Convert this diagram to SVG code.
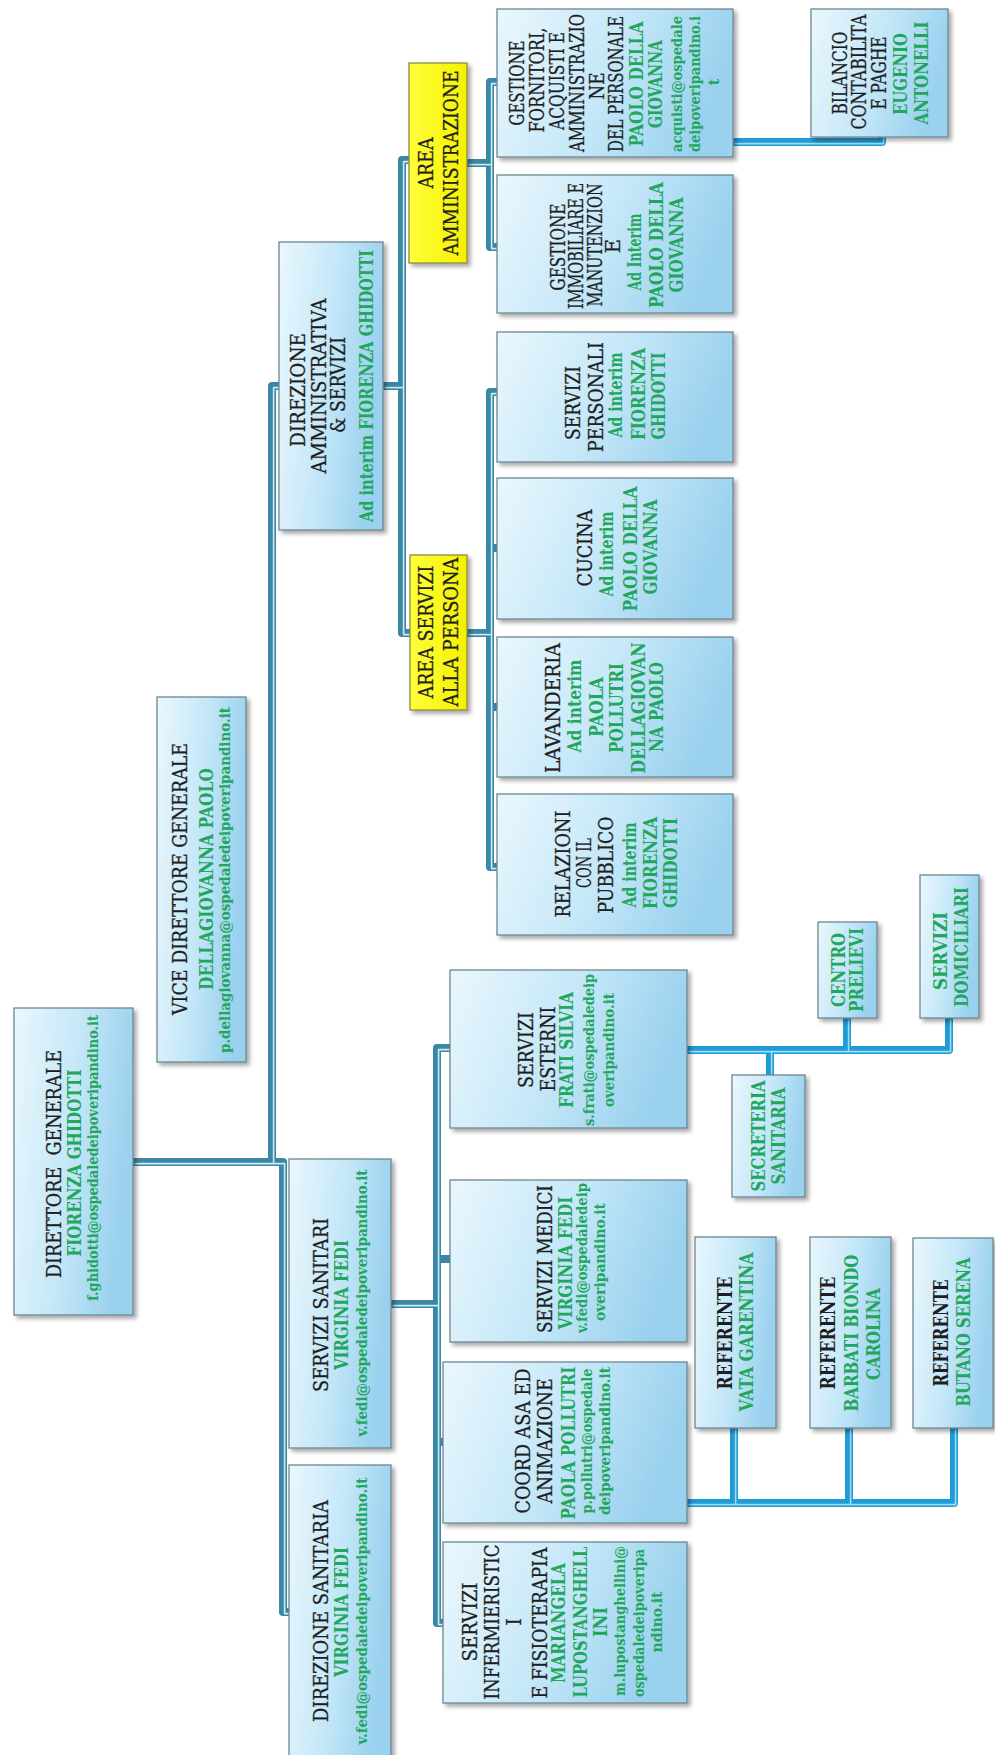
<svg xmlns="http://www.w3.org/2000/svg" width="995" height="1755" viewBox="0 0 995 1755">
<defs>
<linearGradient id="bx" x1="0" y1="0" x2="1" y2="0.25">
<stop offset="0" stop-color="#eaf7fd"/>
<stop offset="0.55" stop-color="#c4e7f8"/>
<stop offset="1" stop-color="#9ad1ee"/>
</linearGradient>
<linearGradient id="yl" x1="0" y1="0" x2="1" y2="0">
<stop offset="0" stop-color="#ffff3a"/>
<stop offset="1" stop-color="#f4f000"/>
</linearGradient>
<filter id="sh" x="-15%" y="-10%" width="135%" height="125%">
<feDropShadow dx="3" dy="3" stdDeviation="2.2" flood-color="#000" flood-opacity="0.35"/>
</filter>
</defs>
<style>
.box{fill:url(#bx);stroke:#6e8791;stroke-width:1.3;filter:url(#sh)}
.ybox{fill:url(#yl);stroke:#8c8a40;stroke-width:1.3;filter:url(#sh)}
.c1{fill:none;stroke:#3a88a5;stroke-width:8;stroke-linejoin:round}
.c1h{fill:none;stroke:#cfeaf3;stroke-width:1.6;stroke-linejoin:round}
.c2{fill:none;stroke:#1f9bd5;stroke-width:8;stroke-linejoin:round}
.c2h{fill:none;stroke:#9edcf4;stroke-width:1.6;stroke-linejoin:round}
.t{font-family:"DejaVu Serif","Liberation Serif",serif;font-size:19.5px;fill:#1e1e1e;stroke:#1e1e1e;stroke-width:0.3;text-anchor:middle}
.tb{font-family:"DejaVu Serif","Liberation Serif",serif;font-size:19.5px;font-weight:bold;fill:#1e1e1e;text-anchor:middle}
.g{font-family:"DejaVu Serif","Liberation Serif",serif;font-size:18px;font-weight:bold;fill:#21a65c;text-anchor:middle}
.e{font-family:"DejaVu Serif","Liberation Serif",serif;font-size:14px;font-weight:bold;fill:#21a65c;text-anchor:middle}
</style>
<rect width="995" height="1755" fill="#ffffff"/>

<g id="connectors">
<g id="dark">
<path class="c1" d="M133,1162 H283 V1612 H290"/>
<path class="c1" d="M272,1162 V386 H280"/>
<path class="c1" d="M383,386 H402"/>
<path class="c1" d="M410,160 H402 V633 H411"/>
<path class="c1" d="M467,163 H490"/>
<path class="c1" d="M498,82 H490 V247 H498"/>
<path class="c1" d="M467,633 H490"/>
<path class="c1" d="M498,392 H490 V867 H498"/>
<path class="c1" d="M490,548 H498 M490,707 H498"/>
<path class="c1" d="M391,1304 H437"/>
<path class="c1" d="M451,1048 H437 V1623 H444"/>
<path class="c1" d="M437,1259 H451 M437,1442 H444"/>
<g transform="translate(1.6,1.6)">
<path class="c1h" d="M133,1162 H283 V1612 H288"/>
<path class="c1h" d="M272,1162 V386 H278"/>
<path class="c1h" d="M383,386 H402"/>
<path class="c1h" d="M408,160 H402 V633 H409"/>
<path class="c1h" d="M467,163 H490"/>
<path class="c1h" d="M496,82 H490 V247 H496"/>
<path class="c1h" d="M467,633 H490"/>
<path class="c1h" d="M496,392 H490 V867 H496"/>
<path class="c1h" d="M391,1304 H437"/>
<path class="c1h" d="M449,1048 H437 V1623 H442"/>
</g>
</g>
<g id="bright">
<path class="c2" d="M687,1050 H949 V1018"/>
<path class="c2" d="M847,1050 V1018 M770,1050 V1075"/>
<path class="c2" d="M687,1503 H954 V1428"/>
<path class="c2" d="M734,1503 V1428 M849,1503 V1428"/>
<path class="c2" d="M733,142 H882 V132"/>
<g transform="translate(1.6,1.6)">
<path class="c2h" d="M687,1050 H949 V1018"/>
<path class="c2h" d="M847,1050 V1018 M770,1050 V1073"/>
<path class="c2h" d="M687,1503 H954 V1428"/>
<path class="c2h" d="M734,1503 V1428 M849,1503 V1428"/>
<path class="c2h" d="M733,142 H882 V132"/>
</g>
</g>
</g>

<g id="direttore-generale">
<rect class="box" x="14" y="1008" width="119" height="307"/>
<text class="t" xml:space="preserve" transform="translate(61,1164) rotate(-90)" textLength="228" lengthAdjust="spacingAndGlyphs">DIRETTORE  GENERALE</text>
<text class="g" transform="translate(81,1163) rotate(-90)" textLength="187" lengthAdjust="spacingAndGlyphs">FIORENZA GHIDOTTI</text>
<text class="e" transform="translate(98,1158) rotate(-90)" textLength="286" lengthAdjust="spacingAndGlyphs">f.ghidotti@ospedaledeipoveripandino.it</text>
</g>

<g id="vice-direttore">
<rect class="box" x="157" y="697" width="89" height="365"/>
<text class="t" transform="translate(187,879) rotate(-90)" textLength="272" lengthAdjust="spacingAndGlyphs">VICE DIRETTORE GENERALE</text>
<text class="g" transform="translate(213,879) rotate(-90)" textLength="222" lengthAdjust="spacingAndGlyphs">DELLAGIOVANNA PAOLO</text>
<text class="e" transform="translate(230,880) rotate(-90)" textLength="346" lengthAdjust="spacingAndGlyphs">p.dellagiovanna@ospedaledeipoveripandino.it</text>
</g>

<g id="direzione-amministrativa">
<rect class="box" x="279" y="242" width="104" height="288"/>
<text class="t" transform="translate(305,390) rotate(-90)" textLength="114" lengthAdjust="spacingAndGlyphs">DIREZIONE</text>
<text class="t" transform="translate(326,386) rotate(-90)" textLength="175" lengthAdjust="spacingAndGlyphs">AMMINISTRATIVA</text>
<text class="t" transform="translate(345,385) rotate(-90)" textLength="96" lengthAdjust="spacingAndGlyphs">&amp; SERVIZI</text>
<text class="g" transform="translate(373,386) rotate(-90)" textLength="272" lengthAdjust="spacingAndGlyphs">Ad interim FIORENZA GHIDOTTI</text>
</g>

<g id="servizi-sanitari">
<rect class="box" x="289" y="1159" width="102" height="289"/>
<text class="t" transform="translate(328,1305) rotate(-90)" textLength="174" lengthAdjust="spacingAndGlyphs">SERVIZI SANITARI</text>
<text class="g" transform="translate(348,1305) rotate(-90)" textLength="130" lengthAdjust="spacingAndGlyphs">VIRGINIA FEDI</text>
<text class="e" transform="translate(367,1303) rotate(-90)" textLength="267" lengthAdjust="spacingAndGlyphs">v.fedi@ospedaledeipoveripandino.it</text>
</g>

<g id="direzione-sanitaria">
<rect class="box" x="289" y="1465" width="102" height="293"/>
<text class="t" transform="translate(328,1611) rotate(-90)" textLength="222" lengthAdjust="spacingAndGlyphs">DIREZIONE SANITARIA</text>
<text class="g" transform="translate(348,1612) rotate(-90)" textLength="130" lengthAdjust="spacingAndGlyphs">VIRGINIA FEDI</text>
<text class="e" transform="translate(367,1611) rotate(-90)" textLength="267" lengthAdjust="spacingAndGlyphs">v.fedi@ospedaledeipoveripandino.it</text>
</g>

<g id="area-amministrazione">
<rect class="ybox" x="409" y="63" width="58" height="200"/>
<text class="t" transform="translate(433,163) rotate(-90)" textLength="51" lengthAdjust="spacingAndGlyphs">AREA</text>
<text class="t" transform="translate(458,163) rotate(-90)" textLength="185" lengthAdjust="spacingAndGlyphs">AMMINISTRAZIONE</text>
</g>

<g id="area-servizi-persona">
<rect class="ybox" x="410" y="555" width="57" height="155"/>
<text class="t" transform="translate(433,632) rotate(-90)" textLength="133" lengthAdjust="spacingAndGlyphs">AREA SERVIZI</text>
<text class="t" transform="translate(458,632) rotate(-90)" textLength="149" lengthAdjust="spacingAndGlyphs">ALLA PERSONA</text>
</g>

<g id="gestione-fornitori">
<rect class="box" x="497" y="9" width="236" height="148"/>
<text class="t" transform="translate(524,83) rotate(-90)" textLength="85" lengthAdjust="spacingAndGlyphs">GESTIONE</text>
<text class="t" transform="translate(544,80) rotate(-90)" textLength="105" lengthAdjust="spacingAndGlyphs">FORNITORI,</text>
<text class="t" transform="translate(564,81) rotate(-90)" textLength="98" lengthAdjust="spacingAndGlyphs">ACQUISTI E</text>
<text class="t" transform="translate(584,83) rotate(-90)" textLength="138" lengthAdjust="spacingAndGlyphs">AMMINISTRAZIO</text>
<text class="t" transform="translate(604,86) rotate(-90)" textLength="27" lengthAdjust="spacingAndGlyphs">NE</text>
<text class="t" transform="translate(623,84) rotate(-90)" textLength="136" lengthAdjust="spacingAndGlyphs">DEL PERSONALE</text>
<text class="g" transform="translate(643,84) rotate(-90)" textLength="125" lengthAdjust="spacingAndGlyphs">PAOLO DELLA</text>
<text class="g" transform="translate(662,84) rotate(-90)" textLength="88" lengthAdjust="spacingAndGlyphs">GIOVANNA</text>
<text class="e" transform="translate(682,84) rotate(-90)" textLength="136" lengthAdjust="spacingAndGlyphs">acquisti@ospedale</text>
<text class="e" transform="translate(700,84) rotate(-90)" textLength="136" lengthAdjust="spacingAndGlyphs">deipoveripandino.i</text>
<text class="e" transform="translate(719,82) rotate(-90)">t</text>
</g>

<g id="gestione-immobiliare">
<rect class="box" x="497" y="175" width="236" height="138"/>
<text class="t" transform="translate(565,247) rotate(-90)" textLength="87" lengthAdjust="spacingAndGlyphs">GESTIONE</text>
<text class="t" transform="translate(583,246) rotate(-90)" textLength="126" lengthAdjust="spacingAndGlyphs">IMMOBILIARE E</text>
<text class="t" transform="translate(602,245) rotate(-90)" textLength="123" lengthAdjust="spacingAndGlyphs">MANUTENZION</text>
<text class="t" transform="translate(620,246) rotate(-90)">E</text>
<text class="g" transform="translate(641,252) rotate(-90)" textLength="77" lengthAdjust="spacingAndGlyphs">Ad Interim</text>
<text class="g" transform="translate(663,245) rotate(-90)" textLength="126" lengthAdjust="spacingAndGlyphs">PAOLO DELLA</text>
<text class="g" transform="translate(683,245) rotate(-90)" textLength="95" lengthAdjust="spacingAndGlyphs">GIOVANNA</text>
</g>

<g id="servizi-personali">
<rect class="box" x="497" y="332" width="236" height="130"/>
<text class="t" transform="translate(580,403) rotate(-90)" textLength="74" lengthAdjust="spacingAndGlyphs">SERVIZI</text>
<text class="t" transform="translate(603,397) rotate(-90)" textLength="110" lengthAdjust="spacingAndGlyphs">PERSONALI</text>
<text class="g" transform="translate(622,395) rotate(-90)" textLength="85" lengthAdjust="spacingAndGlyphs">Ad interim</text>
<text class="g" transform="translate(645,394) rotate(-90)" textLength="92" lengthAdjust="spacingAndGlyphs">FIORENZA</text>
<text class="g" transform="translate(665,396) rotate(-90)" textLength="87" lengthAdjust="spacingAndGlyphs">GHIDOTTI</text>
</g>

<g id="cucina">
<rect class="box" x="497" y="478" width="236" height="141"/>
<text class="t" transform="translate(592,548) rotate(-90)" textLength="77" lengthAdjust="spacingAndGlyphs">CUCINA</text>
<text class="g" transform="translate(613,554) rotate(-90)" textLength="85" lengthAdjust="spacingAndGlyphs">Ad interim</text>
<text class="g" transform="translate(637,549) rotate(-90)" textLength="125" lengthAdjust="spacingAndGlyphs">PAOLO DELLA</text>
<text class="g" transform="translate(657,547) rotate(-90)" textLength="95" lengthAdjust="spacingAndGlyphs">GIOVANNA</text>
</g>

<g id="lavanderia">
<rect class="box" x="497" y="637" width="236" height="140"/>
<text class="t" transform="translate(560,708) rotate(-90)" textLength="130" lengthAdjust="spacingAndGlyphs">LAVANDERIA</text>
<text class="g" transform="translate(581,706) rotate(-90)" textLength="93" lengthAdjust="spacingAndGlyphs">Ad interim</text>
<text class="g" transform="translate(603,707) rotate(-90)" textLength="60" lengthAdjust="spacingAndGlyphs">PAOLA</text>
<text class="g" transform="translate(623,708) rotate(-90)" textLength="90" lengthAdjust="spacingAndGlyphs">POLLUTRI</text>
<text class="g" transform="translate(645,708) rotate(-90)" textLength="131" lengthAdjust="spacingAndGlyphs">DELLAGIOVAN</text>
<text class="g" transform="translate(663,707) rotate(-90)" textLength="90" lengthAdjust="spacingAndGlyphs">NA PAOLO</text>
</g>

<g id="relazioni-pubblico">
<rect class="box" x="497" y="794" width="236" height="141"/>
<text class="t" transform="translate(570,864) rotate(-90)" textLength="107" lengthAdjust="spacingAndGlyphs">RELAZIONI</text>
<text class="t" transform="translate(591,863) rotate(-90)" textLength="50" lengthAdjust="spacingAndGlyphs">CON IL</text>
<text class="t" transform="translate(613,865) rotate(-90)" textLength="97" lengthAdjust="spacingAndGlyphs">PUBBLICO</text>
<text class="g" transform="translate(636,865) rotate(-90)" textLength="85" lengthAdjust="spacingAndGlyphs">Ad interim</text>
<text class="g" transform="translate(657,863) rotate(-90)" textLength="92" lengthAdjust="spacingAndGlyphs">FIORENZA</text>
<text class="g" transform="translate(677,863) rotate(-90)" textLength="90" lengthAdjust="spacingAndGlyphs">GHIDOTTI</text>
</g>

<g id="bilancio">
<rect class="box" x="811" y="9" width="137" height="128"/>
<text class="t" transform="translate(847,73) rotate(-90)" textLength="83" lengthAdjust="spacingAndGlyphs">BILANCIO</text>
<text class="t" transform="translate(866,72) rotate(-90)" textLength="115" lengthAdjust="spacingAndGlyphs">CONTABILITA</text>
<text class="t" transform="translate(886,73) rotate(-90)" textLength="73" lengthAdjust="spacingAndGlyphs">E PAGHE</text>
<text class="g" transform="translate(907,74) rotate(-90)" textLength="82" lengthAdjust="spacingAndGlyphs">EUGENIO</text>
<text class="g" transform="translate(928,73) rotate(-90)" textLength="103" lengthAdjust="spacingAndGlyphs">ANTONELLI</text>
</g>

<g id="servizi-esterni">
<rect class="box" x="450" y="970" width="237" height="158"/>
<text class="t" transform="translate(533,1050) rotate(-90)" textLength="76" lengthAdjust="spacingAndGlyphs">SERVIZI</text>
<text class="t" transform="translate(555,1049) rotate(-90)" textLength="85" lengthAdjust="spacingAndGlyphs">ESTERNI</text>
<text class="g" transform="translate(573,1050) rotate(-90)" textLength="116" lengthAdjust="spacingAndGlyphs">FRATI SILVIA</text>
<text class="e" transform="translate(594,1050) rotate(-90)" textLength="152" lengthAdjust="spacingAndGlyphs">s.frati@ospedaledeip</text>
<text class="e" transform="translate(614,1050) rotate(-90)" textLength="114" lengthAdjust="spacingAndGlyphs">overipandino.it</text>
</g>

<g id="servizi-medici">
<rect class="box" x="450" y="1180" width="237" height="162"/>
<text class="t" transform="translate(552,1259) rotate(-90)" textLength="148" lengthAdjust="spacingAndGlyphs">SERVIZI MEDICI</text>
<text class="g" transform="translate(572,1263) rotate(-90)" textLength="133" lengthAdjust="spacingAndGlyphs">VIRGINIA FEDI</text>
<text class="e" transform="translate(587,1258) rotate(-90)" textLength="150" lengthAdjust="spacingAndGlyphs">v.fedi@ospedaledeip</text>
<text class="e" transform="translate(605,1262) rotate(-90)" textLength="118" lengthAdjust="spacingAndGlyphs">overipandino.it</text>
</g>

<g id="coord-asa">
<rect class="box" x="443" y="1362" width="244" height="161"/>
<text class="t" transform="translate(530,1441) rotate(-90)" textLength="145" lengthAdjust="spacingAndGlyphs">COORD ASA ED</text>
<text class="t" transform="translate(552,1441) rotate(-90)" textLength="125" lengthAdjust="spacingAndGlyphs">ANIMAZIONE</text>
<text class="g" transform="translate(575,1443) rotate(-90)" textLength="153" lengthAdjust="spacingAndGlyphs">PAOLA POLLUTRI</text>
<text class="e" transform="translate(592,1441) rotate(-90)" textLength="145" lengthAdjust="spacingAndGlyphs">p.pollutri@ospedale</text>
<text class="e" transform="translate(610,1441) rotate(-90)" textLength="148" lengthAdjust="spacingAndGlyphs">deipoveripandino.it</text>
</g>

<g id="servizi-infermieristici">
<rect class="box" x="443" y="1542" width="244" height="161"/>
<text class="t" transform="translate(477,1622) rotate(-90)" textLength="79" lengthAdjust="spacingAndGlyphs">SERVIZI</text>
<text class="t" transform="translate(499,1622) rotate(-90)" textLength="155" lengthAdjust="spacingAndGlyphs">INFERMIERISTIC</text>
<text class="t" transform="translate(521,1622) rotate(-90)">I</text>
<text class="t" transform="translate(547,1623) rotate(-90)" textLength="151" lengthAdjust="spacingAndGlyphs">E FISIOTERAPIA</text>
<text class="g" transform="translate(565,1623) rotate(-90)" textLength="120" lengthAdjust="spacingAndGlyphs">MARIANGELA</text>
<text class="g" transform="translate(587,1622) rotate(-90)" textLength="151" lengthAdjust="spacingAndGlyphs">LUPOSTANGHELL</text>
<text class="g" transform="translate(607,1622) rotate(-90)" textLength="30" lengthAdjust="spacingAndGlyphs">INI</text>
<text class="e" transform="translate(625,1621) rotate(-90)" textLength="150" lengthAdjust="spacingAndGlyphs">m.lupostanghellini@</text>
<text class="e" transform="translate(644,1623) rotate(-90)" textLength="148" lengthAdjust="spacingAndGlyphs">ospedaledeipoveripa</text>
<text class="e" transform="translate(662,1622) rotate(-90)" textLength="61" lengthAdjust="spacingAndGlyphs">ndino.it</text>
</g>

<g id="secreteria-sanitaria">
<rect class="box" x="732" y="1075" width="73" height="122"/>
<text class="g" transform="translate(765,1136) rotate(-90)" textLength="111" lengthAdjust="spacingAndGlyphs">SECRETERIA</text>
<text class="g" transform="translate(785,1136) rotate(-90)" textLength="97" lengthAdjust="spacingAndGlyphs">SANITARIA</text>
</g>

<g id="centro-prelievi">
<rect class="box" x="818" y="922" width="59" height="96"/>
<text class="g" transform="translate(845,970) rotate(-90)" textLength="74" lengthAdjust="spacingAndGlyphs">CENTRO</text>
<text class="g" transform="translate(863,970) rotate(-90)" textLength="84" lengthAdjust="spacingAndGlyphs">PRELIEVI</text>
</g>

<g id="servizi-domiciliari">
<rect class="box" x="920" y="875" width="59" height="143"/>
<text class="g" transform="translate(947,951) rotate(-90)" textLength="78" lengthAdjust="spacingAndGlyphs">SERVIZI</text>
<text class="g" transform="translate(968,947) rotate(-90)" textLength="120" lengthAdjust="spacingAndGlyphs">DOMICILIARI</text>
</g>

<g id="referente-vata">
<rect class="box" x="695" y="1237" width="81" height="191"/>
<text class="tb" transform="translate(732,1333) rotate(-90)" textLength="113" lengthAdjust="spacingAndGlyphs">REFERENTE</text>
<text class="g" transform="translate(753,1332) rotate(-90)" textLength="159" lengthAdjust="spacingAndGlyphs">VATA GARENTINA</text>
</g>

<g id="referente-barbati">
<rect class="box" x="810" y="1237" width="81" height="191"/>
<text class="tb" transform="translate(835,1333) rotate(-90)" textLength="113" lengthAdjust="spacingAndGlyphs">REFERENTE</text>
<text class="g" transform="translate(858,1333) rotate(-90)" textLength="157" lengthAdjust="spacingAndGlyphs">BARBATI BIONDO</text>
<text class="g" transform="translate(880,1334) rotate(-90)" textLength="92" lengthAdjust="spacingAndGlyphs">CAROLINA</text>
</g>

<g id="referente-butano">
<rect class="box" x="913" y="1238" width="80" height="190"/>
<text class="tb" transform="translate(948,1333) rotate(-90)" textLength="107" lengthAdjust="spacingAndGlyphs">REFERENTE</text>
<text class="g" transform="translate(970,1332) rotate(-90)" textLength="149" lengthAdjust="spacingAndGlyphs">BUTANO SERENA</text>
</g>
</svg>
